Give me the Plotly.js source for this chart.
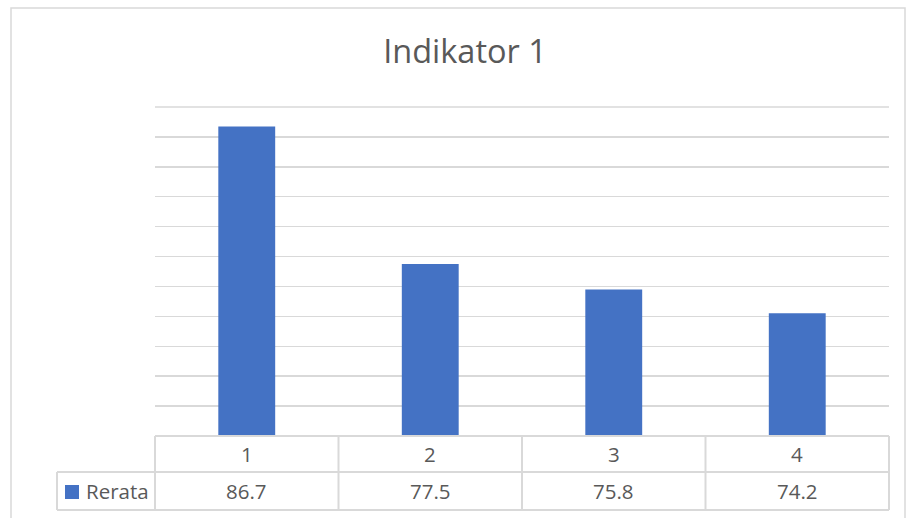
<!DOCTYPE html>
<html>
<head>
<meta charset="utf-8">
<script src="https://cdn.plot.ly/plotly-3.0.1.min.js"></script>
<style>html,body{margin:0;padding:0;background:#fff;}#chart{width:906px;height:518px;}</style>
</head>
<body>
<div id="chart"></div>
<script>
const chartTitle = "Indikator 1";
const seriesName = "Rerata";
const categories = ["1", "2", "3", "4"];
const values = [86.7, 77.5, 75.8, 74.2];
const valueLabels = ["86.7", "77.5", "75.8", "74.2"];

const W = 906, H = 518;
const L = 155, R = 889, T = 107, B = 436;
const px = x => (x - L) / (R - L);
const py = y => (B - y) / (B - T);

const textColor = "#595959";
const lineColor = "#d9d9d9";
const fontFam = "'Open Sans', 'Noto Sans', sans-serif";

const xIdx = categories.map((c, i) => i);

const shapes = [];
const annotations = [];
const n = categories.length;

// chart border
shapes.push({type: "rect", xref: "paper", yref: "paper", x0: px(11), x1: px(905), y0: py(540), y1: py(8),
  line: {color: lineColor, width: 1.5}, fillcolor: "rgba(0,0,0,0)", layer: "below"});

// top gridline (at plot edge)
shapes.push({type: "line", xref: "paper", yref: "paper", x0: 0, x1: 1, y0: 1, y1: 1, line: {color: lineColor, width: 1.5}, layer: "below"});

// table horizontal lines
shapes.push({type: "line", xref: "paper", yref: "paper", x0: 0, x1: 1, y0: 0, y1: 0, line: {color: lineColor, width: 2}});
shapes.push({type: "line", xref: "paper", yref: "paper", x0: px(57), x1: 1, y0: py(472), y1: py(472), line: {color: lineColor, width: 2}});
shapes.push({type: "line", xref: "paper", yref: "paper", x0: px(57), x1: 1, y0: py(510), y1: py(510), line: {color: lineColor, width: 2}});
// verticals
for (let k = 0; k <= n; k++) {
  shapes.push({type: "line", xref: "paper", yref: "paper", x0: k / n, x1: k / n, y0: 0, y1: py(510), line: {color: lineColor, width: 2}});
}
shapes.push({type: "line", xref: "paper", yref: "paper", x0: px(57), x1: px(57), y0: py(472), y1: py(510), line: {color: lineColor, width: 2}});

// legend key
shapes.push({type: "rect", xref: "paper", yref: "paper", x0: px(65), x1: px(79), y0: py(499), y1: py(485),
  line: {width: 0}, fillcolor: "#4472C4"});
annotations.push({xref: "paper", yref: "paper", x: px(84), y: py(491), xanchor: "left", yanchor: "middle",
  text: seriesName, showarrow: false, font: {family: fontFam, size: 20.5, color: textColor}});

categories.forEach((c, i) => {
  annotations.push({xref: "x", yref: "paper", x: i, y: py(454), xanchor: "center", yanchor: "middle",
    text: c, showarrow: false, font: {family: fontFam, size: 20.5, color: textColor}});
  annotations.push({xref: "x", yref: "paper", x: i, y: py(491), xanchor: "center", yanchor: "middle",
    text: valueLabels[i], showarrow: false, font: {family: fontFam, size: 20.5, color: textColor}});
});

const trace = {
  type: "bar",
  x: xIdx,
  y: values,
  width: 0.31,
  marker: {color: "#4472C4"},
  name: seriesName,
  hoverinfo: "skip"
};

const layout = {
  width: W, height: H,
  margin: {l: L, r: W - R, t: T, b: H - B, pad: 0},
  paper_bgcolor: "#ffffff",
  plot_bgcolor: "#ffffff",
  showlegend: false,
  title: {text: chartTitle, x: 465 / W, xref: "container", xanchor: "center",
    y: 1 - 52 / H, yref: "container", yanchor: "middle",
    font: {family: fontFam, size: 32.5, color: textColor}},
  xaxis: {range: [-0.5, 3.5], showgrid: false, zeroline: false, showticklabels: false, ticks: "", showline: false, fixedrange: true},
  yaxis: {range: [66, 88], dtick: 2, tick0: 66, showgrid: true, gridcolor: lineColor, gridwidth: 1.5,
    zeroline: false, showticklabels: false, ticks: "", showline: false, fixedrange: true},
  shapes: shapes,
  annotations: annotations
};

Plotly.newPlot("chart", [trace], layout, {displayModeBar: false, staticPlot: true});
</script>
</body>
</html>
